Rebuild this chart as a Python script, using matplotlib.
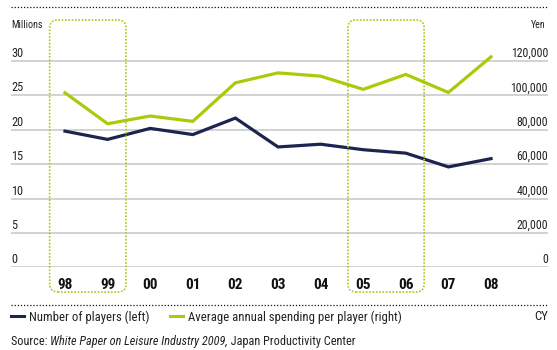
import matplotlib
matplotlib.use("Agg")
import matplotlib.pyplot as plt
from matplotlib.lines import Line2D
from matplotlib.patches import FancyBboxPatch
from matplotlib import font_manager

years = ["98", "99", "00", "01", "02", "03", "04", "05", "06", "07", "08"]
players_millions = [19.8, 18.6, 20.2, 19.3, 21.7, 17.5, 17.9, 17.1, 16.6, 14.6, 15.8]
spending_yen = [101500, 83500, 88000, 84900, 107300, 113100, 111200, 103500, 112200, 101700, 122400]
left_ticks = [0, 5, 10, 15, 20, 25, 30]
right_ticks = [0, 20000, 40000, 60000, 80000, 100000, 120000]
highlight_groups = [("98", "99"), ("05", "06")]

NAVY = "#1c2550"
GREEN = "#a8cb0c"
GRID = "#cfcfcf"
TEXT = "#222222"

# prefer a narrow / condensed sans face when one is installed
def pick_condensed():
    prefs = ["liberation sans narrow", "roboto condensed", "noto sans", "open sans", "dejavu sans"]
    found = []
    for f in font_manager.fontManager.ttflist:
        fn = f.fname.lower()
        if ("narrow" in fn or "condensed" in fn) and "semi" not in fn and "extra" not in fn:
            found.append(f)
    best = None
    for p in prefs:
        for f in found:
            if p.replace(" ", "") in f.fname.lower().replace("-", "").replace("_", "") or f.name.lower().startswith(p):
                best = f
                break
        if best:
            break
    if best is None and found:
        best = found[0]
    return best

cond = pick_condensed()
if cond is not None:
    plt.rcParams["font.family"] = [cond.name, "DejaVu Sans"]
    plt.rcParams["font.stretch"] = "condensed"
else:
    plt.rcParams["font.family"] = ["Roboto", "DejaVu Sans"]

W, H = 557, 350
fig = plt.figure(figsize=(W / 100, H / 100), dpi=100)

def fx(px):
    return px / W

def fy(py):
    return 1 - py / H

# plotting area: zero gridline at y=267.3px, 30 gridline at y=61px
px_per_unit = (267.3 - 61) / 30
ymax = 33
top_px = 267.3 - ymax * px_per_unit
ax = fig.add_axes([fx(11), fy(267.3), fx(548) - fx(11), (267.3 - top_px) / H])
x = list(range(len(years)))
step = 42.6
ax.set_xlim((11 - 65) / step, (548 - 65) / step)
ax.set_ylim(0, ymax)
ax2 = ax.twinx()
ax2.set_ylim(0, ymax * 4000)

for a in (ax, ax2):
    for s in a.spines.values():
        s.set_visible(False)
    a.set_xticks([])
    a.set_yticks([])
    a.patch.set_alpha(0)

for v in left_ticks:
    ax.axhline(v, color=GRID, lw=1.3, zorder=1)
    ax.annotate(str(v), xy=(0, v), xycoords=ax.get_yaxis_transform(),
                xytext=(0, 2.8), textcoords="offset points",
                ha="left", va="baseline", fontsize=8.8, color=TEXT)
for v in right_ticks:
    ax2.annotate(f"{v:,}", xy=(1, v), xycoords=ax2.get_yaxis_transform(),
                 xytext=(0, 2.8), textcoords="offset points",
                 ha="right", va="baseline", fontsize=8.6, color=TEXT)

for i, lab in enumerate(years):
    ax.annotate(lab, xy=(i, 0), xycoords="data", xytext=(0, -13), textcoords="offset points",
                ha="center", va="center", fontsize=11, fontweight="bold", color="#111111",
                annotation_clip=False)

ax.plot(x, players_millions, color=NAVY, lw=2.3, solid_joinstyle="miter", zorder=3, clip_on=False)
ax2.plot(x, spending_yen, color=GREEN, lw=2.3, solid_joinstyle="miter", zorder=3, clip_on=False)

fig.text(fx(11), fy(25), "Millions", fontsize=7.2, color=TEXT, ha="left", va="center")
fig.text(fx(546), fy(25), "Yen", fontsize=7.2, color=TEXT, ha="right", va="center")

# rounded dotted frames around highlighted year pairs
fig.canvas.draw()
to_fig = ax.transData + fig.transFigure.inverted()
r = 8
for a_lab, b_lab in highlight_groups:
    i0, i1 = years.index(a_lab), years.index(b_lab)
    left = to_fig.transform((i0 - 0.36, 0))[0]
    right = to_fig.transform((i1 + 0.43, 0))[0]
    bottom, top = fy(292), fy(20)
    box = FancyBboxPatch((left, bottom), right - left, top - bottom,
                         boxstyle=f"round,pad=0,rounding_size={r / W}",
                         mutation_aspect=W / H, transform=fig.transFigure,
                         fill=False, edgecolor=GREEN, lw=1.2, linestyle=(0, (1, 1)),
                         zorder=5)
    fig.add_artist(box)

for py in (7, 305):
    fig.add_artist(Line2D([fx(11), fx(548)], [fy(py), fy(py)], color="#111111",
                          lw=0.9, linestyle=(0, (1, 1.5)), transform=fig.transFigure))

handles = [Line2D([], [], color=NAVY, lw=2.2), Line2D([], [], color=GREEN, lw=2.2)]
fig.legend(handles, ["Number of players (left)", "Average annual spending per player (right)"],
           loc="center left", bbox_to_anchor=(fx(11), fy(317)), ncol=2, frameon=False,
           fontsize=9.2, handlelength=1.0, handletextpad=0.4, columnspacing=1.6,
           borderpad=0, borderaxespad=0, labelcolor=TEXT)
fig.text(fx(548), fy(317), "CY", fontsize=9.2, color=TEXT, ha="right", va="center")

t1 = fig.text(fx(11), fy(345), "Source: ", fontsize=8.8, color=TEXT, ha="left", va="baseline")
t2 = ax.annotate("White Paper on Leisure Industry 2009,", xy=(1, 0), xycoords=t1,
                 ha="left", va="bottom", fontsize=8.8, style="italic", color=TEXT,
                 annotation_clip=False)
ax.annotate(" Japan Productivity Center", xy=(1, 0), xycoords=t2,
            ha="left", va="bottom", fontsize=8.8, color=TEXT, annotation_clip=False)

fig.savefig("out.png", dpi=100)
